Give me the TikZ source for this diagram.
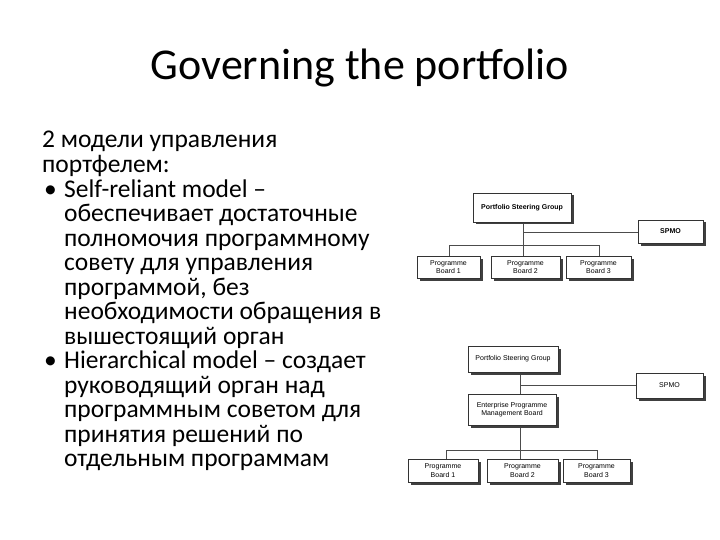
\documentclass[tikz,border=0pt]{standalone}
\usepackage{fontspec}
\setmainfont{Carlito}
\newfontfamily\arialf{Liberation Sans}
\begin{document}
\begin{tikzpicture}[x=1pt,y=-1pt,
  txt/.style={anchor=base west,inner sep=0pt,font=\fontsize{25.5}{28}\selectfont},
  box/.style={draw=black!80,line width=0.8pt,fill=white,align=center,inner sep=0pt,font=\arialf\fontsize{7}{8.5}\selectfont},
  shad/.style={fill=black!75},
  ln/.style={draw=black!70,line width=0.6pt}]
\useasboundingbox (0,0) rectangle (720,540);
\node[anchor=center,font=\fontsize{44}{48}\selectfont] (title) at (360,68) {Governing the portfolio};
\foreach \t/\x [count=\i] in {
 {2 модели управления}/42,
 {портфелем:}/42,
 {Self-reliant model –}/64,
 {обеспечивает достаточные}/64,
 {полномочия программному}/64,
 {совету для управления}/64,
 {программой, без}/64,
 {необходимости обращения в}/64,
 {вышестоящий орган}/64,
 {Hierarchical model – создает}/64,
 {руководящий орган над}/64,
 {программным советом для}/64,
 {принятия решений по}/64,
 {отдельным программам}/64}
 { \node[txt] (l\i) at (\x,{148+24.5*(\i-1)}) {\t}; }
\node[txt] (b1) at (44,197) {•};
\node[txt] (b2) at (44,368.5) {•};
\newcommand{\shbox}[6]{%
 \fill[shad] (#1+2.5,#2+2.5) rectangle (#3+2.5,#4+2.5);
 \node[box,minimum width=#3-#1,minimum height=#4-#2] (#5) at ({(#1+#3)/2},{(#2+#4)/2}) {#6};}
% top diagram
\draw[ln] (523,222) -- (523,245);
\draw[ln] (523,232) -- (638,232);
\draw[ln] (449,245) -- (599,245);
\draw[ln] (449,245) -- (449,256);
\draw[ln] (523,245) -- (523,256);
\draw[ln] (599,245) -- (599,256);
\shbox{473}{193}{571}{222}{psg}{\textbf{Portfolio Steering Group}}
\shbox{638}{220}{703}{243}{spmo}{\textbf{SPMO}}
\shbox{417}{256}{480}{278}{pb1}{Programme\\Board 1}
\shbox{491}{256}{560}{278}{pb2}{Programme\\Board 2}
\shbox{566}{256}{631}{278}{pb3}{Programme\\Board 3}
% bottom diagram
\draw[ln] (520,372) -- (520,394);
\draw[ln] (520,385) -- (636,385);
\draw[ln] (520,425) -- (520,450);
\draw[ln] (446,450) -- (597,450);
\draw[ln] (446,450) -- (446,459);
\draw[ln] (520,450) -- (520,459);
\draw[ln] (597,450) -- (597,459);
\shbox{468}{346}{558}{372}{psgb}{Portfolio Steering Group}
\shbox{636}{373}{703}{398}{spmob}{SPMO}
\shbox{468}{394}{556}{425}{epmb}{Enterprise Programme\\Management Board}
\shbox{408}{459}{478}{482}{qb1}{Programme\\Board 1}
\shbox{487}{459}{558}{482}{qb2}{Programme\\Board 2}
\shbox{563}{459}{630}{482}{qb3}{Programme\\Board 3}
\end{tikzpicture}
\end{document}
